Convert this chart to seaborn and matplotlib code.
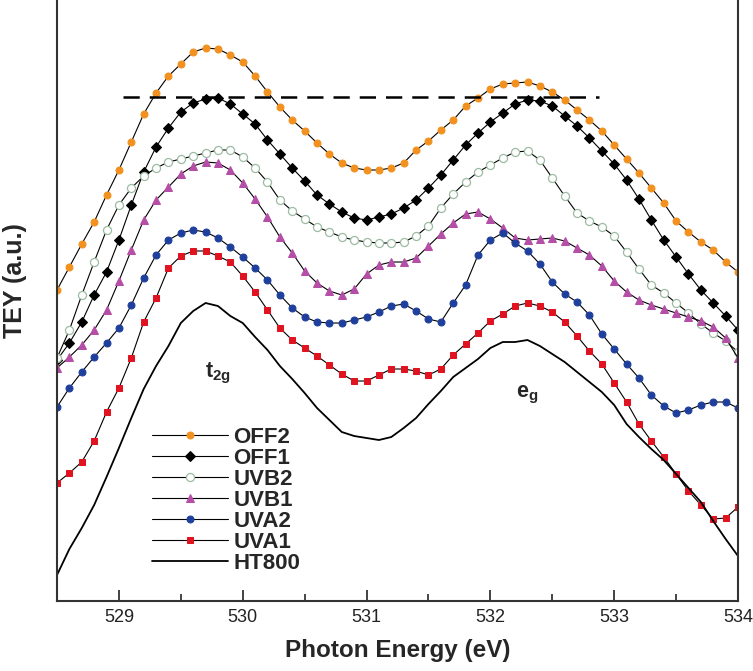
import numpy as np
import pandas as pd
import matplotlib
matplotlib.use("Agg")
import matplotlib.pyplot as plt
from matplotlib.ticker import MultipleLocator
import seaborn as sns

# ---------------- data ----------------
energy = [528.5 + 0.1 * i for i in range(56)]  # photon energy grid (eV)

off2 = [311, 334, 357, 379, 406, 431, 459, 487, 508, 525, 537, 549, 553, 552, 546,
        539, 525, 509, 494, 481, 470, 458, 447, 438, 433, 431, 431, 433, 438, 451,
        460, 471, 481, 495, 503, 512, 517, 518, 519, 515, 509, 501, 491, 481, 470,
        456, 442, 428, 413, 398, 380, 369, 359, 351, 339, 329]
off1 = [241, 258, 279, 306, 329, 361, 396, 429, 454, 473, 489, 498, 502, 503, 497,
        487, 477, 461, 447, 433, 420, 406, 397, 389, 383, 381, 384, 387, 393, 401,
        413, 426, 441, 456, 468, 479, 488, 497, 501, 500, 495, 485, 475, 463, 450,
        437, 421, 402, 381, 361, 344, 327, 311, 298, 285, 271]
uvb2 = [243, 271, 306, 339, 371, 396, 413, 425, 433, 439, 442, 445, 448, 451, 451,
        444, 433, 419, 401, 390, 382, 374, 369, 364, 361, 359, 358, 358, 359, 365,
        375, 393, 407, 419, 429, 436, 443, 449, 450, 441, 423, 405, 388, 380, 374,
        365, 349, 332, 316, 308, 298, 288, 277, 268, 260, 249]
uvb1 = [233, 244, 256, 271, 291, 320, 351, 381, 401, 414, 427, 435, 439, 438, 431,
        418, 402, 384, 364, 348, 330, 318, 310, 306, 312, 327, 336, 339, 339, 343,
        355, 367, 378, 387, 389, 382, 373, 363, 361, 362, 363, 360, 353, 346, 335,
        320, 309, 301, 296, 292, 288, 284, 280, 274, 263, 243]
uva2 = [194, 213, 229, 244, 258, 273, 296, 323, 346, 361, 368, 371, 369, 363, 354,
        344, 333, 321, 306, 293, 284, 279, 278, 278, 281, 284, 289, 295, 297, 290,
        282, 279, 298, 316, 346, 361, 368, 358, 350, 337, 319, 307, 299, 286, 267,
        252, 237, 223, 206, 195, 188, 191, 196, 199, 199, 193]
uva1 = [118, 128, 139, 160, 189, 213, 243, 279, 303, 333, 345, 350, 350, 345, 339,
        325, 309, 291, 273, 261, 253, 245, 236, 227, 220, 220, 226, 232, 232, 230,
        226, 232, 246, 257, 268, 280, 287, 295, 298, 295, 289, 279, 265, 250, 237,
        218, 199, 177, 160, 144, 127, 110, 96, 82, 83, 94]
ht800 = [26, 52, 73, 96, 124, 153, 183, 212, 235, 255, 278, 290, 298, 295, 285,
         278, 264, 251, 235, 222, 208, 193, 181, 169, 165, 163, 161, 164, 173, 183,
         197, 210, 224, 233, 242, 253, 259, 259, 261, 255, 247, 239, 229, 219, 209,
         196, 177, 164, 152, 141, 127, 113, 99, 80, 62, 45]

series_names = ["OFF2", "OFF1", "UVB2", "UVB1", "UVA2", "UVA1", "HT800"]
series_values = [off2, off1, uvb2, uvb1, uva2, uva1, ht800]

ref_level = 504          # dashed reference level (a.u.)
ref_start, ref_end = 529.03, 532.88

x_ticks = [529, 530, 531, 532, 533, 534]

# ---------------- styling ----------------
sns.set_theme(style="white")
plt.rcParams["font.family"] = ["Liberation Sans", "DejaVu Sans"]
plt.rcParams["mathtext.fontset"] = "custom"
plt.rcParams["mathtext.rm"] = "Liberation Sans"
plt.rcParams["mathtext.bf"] = "Liberation Sans:bold"
plt.rcParams["mathtext.it"] = "Liberation Sans:italic"

styles = {
    "OFF2": dict(marker="o", markersize=5.0, markerfacecolor="#f2911f", markeredgecolor="#f2911f"),
    "OFF1": dict(marker="D", markersize=4.8, markerfacecolor="black", markeredgecolor="black"),
    "UVB2": dict(marker="o", markersize=5.8, markerfacecolor="white", markeredgecolor="#9dbba3",
                 markeredgewidth=0.9),
    "UVB1": dict(marker="^", markersize=6.2, markerfacecolor="#b54ea6", markeredgecolor="#b54ea6"),
    "UVA2": dict(marker="o", markersize=5.0, markerfacecolor="#1f3f9c", markeredgecolor="#1f3f9c"),
    "UVA1": dict(marker="s", markersize=4.6, markerfacecolor="#e01420", markeredgecolor="#e01420"),
    "HT800": dict(),
}

fig = plt.figure(figsize=(7.53, 6.71), dpi=100)
ax = fig.add_axes([0.0757, 0.1043, 0.9044, 0.8957])

for name, vals in zip(series_names, series_values):
    df = pd.DataFrame({"E": energy, "TEY": vals})
    kw = dict(styles[name])
    lw = 1.3 if name == "HT800" else 0.8
    sns.lineplot(data=df, x="E", y="TEY", ax=ax, color="black", lw=lw,
                 label=name, sort=False, **kw)

ax.plot([ref_start, ref_end], [ref_level, ref_level], color="black", lw=1.8,
        dashes=(6.5, 4.0))

ax.text(529.80, 228, r"$\mathbf{t_{2g}}$", fontsize=15.5, ha="center", va="center")
ax.text(532.30, 206, r"$\mathbf{e_{g}}$", fontsize=15.5, ha="center", va="center")

ax.set_xlim(528.5, 534.0)
ax.set_ylim(0, 601)
ax.set_xticks(x_ticks)
ax.xaxis.set_minor_locator(MultipleLocator(0.5))
ax.set_yticks([])
ax.tick_params(axis="x", which="major", direction="in", length=8, width=1.2,
               labelsize=13, pad=6, bottom=True, colors="#222222")
ax.tick_params(axis="x", which="minor", direction="in", length=5, width=1.2, bottom=True)
for lab in ax.get_xticklabels():
    lab.set_color("#222222")

for side in ["left", "right", "bottom"]:
    ax.spines[side].set_visible(True)
    ax.spines[side].set_linewidth(1.5)
    ax.spines[side].set_color("#333333")
ax.spines["top"].set_visible(False)

ax.set_xlabel("Photon Energy (eV)", fontsize=17.5, fontweight="bold", labelpad=9)
ax.set_ylabel("TEY (a.u.)", fontsize=18, fontweight="bold")
ax.yaxis.set_label_coords(-0.044, 0.534)

leg = ax.legend(loc="upper left", bbox_to_anchor=(0.14, 0.29), frameon=False,
                prop=dict(weight="bold", size=16), handlelength=3.4,
                handletextpad=0.25, labelspacing=0.0, borderpad=0, borderaxespad=0)

fig.savefig("out.png", dpi=100)
